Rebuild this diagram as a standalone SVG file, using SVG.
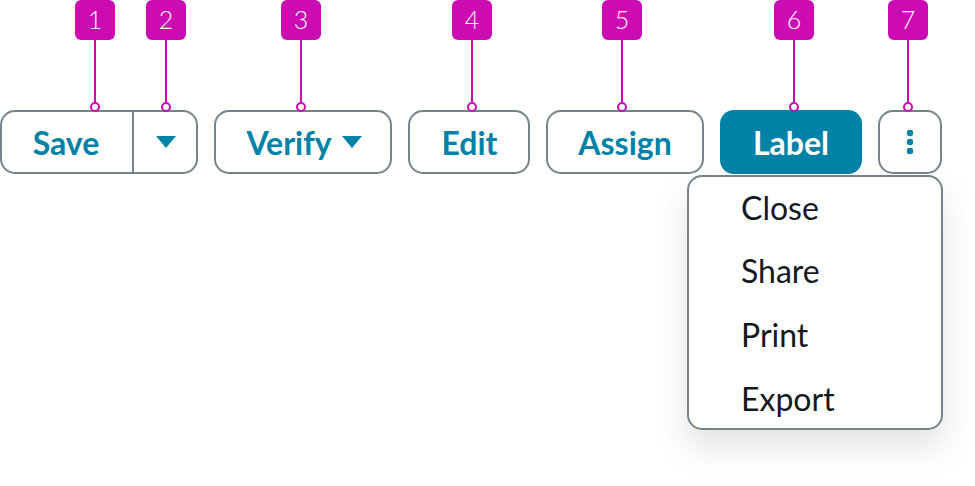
<svg xmlns="http://www.w3.org/2000/svg" width="975" height="486" viewBox="0 0 975 486">
<style>
.btn{fill:#fff;stroke:#77838b;stroke-width:2}
.lb{font-family:Lato,"Liberation Sans",sans-serif;font-weight:700;font-size:32px;fill:#0081a6;text-anchor:middle}
.mi{font-family:Lato,"Liberation Sans",sans-serif;font-weight:400;font-size:32px;fill:#14191e}
.bd{fill:#cc0bb2}
.bt{font-family:Lato,"Liberation Sans",sans-serif;font-weight:300;font-size:25px;fill:#fff;text-anchor:middle}
.ln{stroke:#cc0bb2;stroke-width:2;fill:none}
.dot{fill:#fff;stroke:#cc0bb2;stroke-width:2}
.tri{fill:#0081a6}
</style>
<defs><filter id="sh" x="-25%" y="-25%" width="150%" height="160%"><feDropShadow dx="0" dy="18" stdDeviation="16" flood-color="#000" flood-opacity="0.11"/></filter></defs>
<g id="save"><rect class="btn" x="1" y="111" width="196" height="62" rx="14"/><line x1="133" y1="111" x2="133" y2="173" stroke="#77838b" stroke-width="2"/><text class="lb" x="66" y="154.500">Save</text><path class="tri" d="M156 136h20l-10 12z"/></g>
<g id="verify"><rect class="btn" x="215" y="111" width="176" height="62" rx="14"/><text class="lb" x="289" y="154.500">Verify</text><path class="tri" d="M342 136h20l-10 12z"/></g>
<g id="edit"><rect class="btn" x="409" y="111" width="120" height="62" rx="14"/><text class="lb" x="469.500" y="154.500">Edit</text></g>
<g id="assign"><rect class="btn" x="547" y="111" width="156" height="62" rx="14"/><text class="lb" x="625" y="154.500">Assign</text></g>
<g id="label"><rect x="720" y="110" width="142" height="64" rx="14" fill="#0081a6"/><text class="lb" x="791" y="154.500" style="fill:#fff">Label</text></g>
<g id="more"><rect class="btn" x="879" y="111" width="62" height="62" rx="14"/><circle class="tri" cx="910" cy="133" r="3.2"/><circle class="tri" cx="910" cy="142" r="3.2"/><circle class="tri" cx="910" cy="151" r="3.2"/></g>
<g id="menu"><rect class="btn" x="688" y="176" width="254" height="253" rx="14" filter="url(#sh)"/><text class="mi" x="741" y="219.500">Close</text><text class="mi" x="741" y="283">Share</text><text class="mi" x="741" y="347">Print</text><text class="mi" x="741" y="411">Export</text></g>
<g id="connectors"><path class="ln" d="M95 40V103M166 40V103M301 40V103M472 40V103M622 40V103M794 40V103M908 40V103"/>
<circle class="dot" cx="95" cy="107" r="4"/><circle class="dot" cx="166" cy="107" r="4"/><circle class="dot" cx="301" cy="107" r="4"/><circle class="dot" cx="472" cy="107" r="4"/><circle class="dot" cx="622" cy="107" r="4"/><circle class="dot" cx="794" cy="107" r="4"/><circle class="dot" cx="908" cy="107" r="4"/></g>
<g id="badge1"><rect class="bd" x="75" width="40" height="40" rx="6"/><text class="bt" x="95" y="29">1</text></g>
<g id="badge2"><rect class="bd" x="146" width="40" height="40" rx="6"/><text class="bt" x="166" y="29">2</text></g>
<g id="badge3"><rect class="bd" x="281" width="40" height="40" rx="6"/><text class="bt" x="301" y="29">3</text></g>
<g id="badge4"><rect class="bd" x="452" width="40" height="40" rx="6"/><text class="bt" x="472" y="29">4</text></g>
<g id="badge5"><rect class="bd" x="602" width="40" height="40" rx="6"/><text class="bt" x="622" y="29">5</text></g>
<g id="badge6"><rect class="bd" x="774" width="40" height="40" rx="6"/><text class="bt" x="794" y="29">6</text></g>
<g id="badge7"><rect class="bd" x="888" width="40" height="40" rx="6"/><text class="bt" x="908" y="29">7</text></g>
</svg>
